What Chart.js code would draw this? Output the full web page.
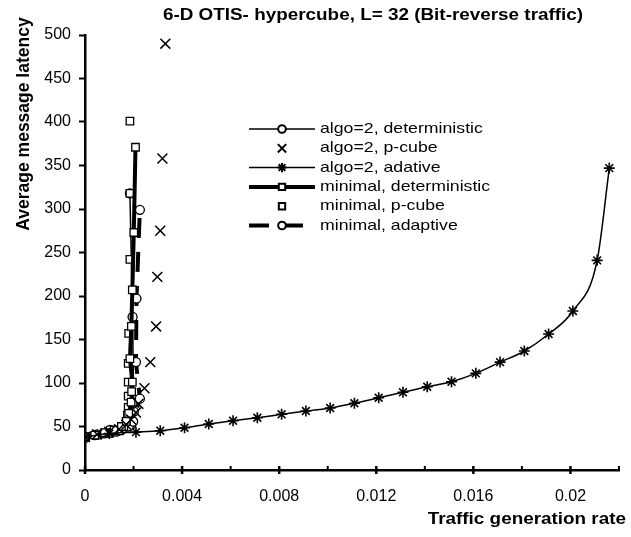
<!DOCTYPE html>
<html>
<head>
<meta charset="utf-8">
<script src="https://cdn.jsdelivr.net/npm/chart.js@4.4.1/dist/chart.umd.min.js"></script>
<style>
  html, body { margin: 0; padding: 0; background: #fff; }
  #wrap { width: 631px; height: 537px; position: relative; }
</style>
</head>
<body>
<div id="wrap"><canvas id="latencyChart"></canvas></div>
<script>
// tick values / labels
const xTickValues = [0, 0.002, 0.004, 0.006, 0.008, 0.010, 0.012, 0.014, 0.016, 0.018, 0.020, 0.022]
const xTickLabels = ["0", "", "0.004", "", "0.008", "", "0.012", "", "0.016", "", "0.02", ""]
const yTickValues = [0, 50, 100, 150, 200, 250, 300, 350, 400, 450, 500]

// series
const algo2DetX = [0, 0.0005, 0.001, 0.0015, 0.00157, 0.0019, 0.00198, 0.00201, 0.00196, 0.00185]
const algo2DetY = [38, 41, 43, 46, 48, 52, 56, 67, 176, 318]

const algo2PcubeX = [0, 0.0005, 0.001, 0.0014, 0.0017, 0.0019, 0.0021, 0.0022, 0.00245, 0.00269, 0.00293, 0.00298, 0.0031, 0.00319, 0.00331]
const algo2PcubeY = [38, 41, 44, 47, 52, 58, 66, 76, 94, 124, 165, 222, 275, 358, 490]

const algo2AdaptX = [0, 0.001, 0.0021, 0.0031, 0.0041, 0.0051, 0.0061, 0.0071, 0.0081, 0.0091, 0.0101, 0.0111, 0.0121, 0.0131, 0.0141, 0.0151, 0.0161, 0.0171, 0.0181, 0.0191, 0.0201, 0.0211, 0.0216]
const algo2AdaptY = [38, 42, 43.5, 45.2, 48.6, 52.9, 56.7, 60.1, 64.0, 67.8, 71.3, 76.7, 83.1, 89.3, 95.7, 101.5, 111.1, 124, 136.8, 156.3, 182.8, 241, 347]

const minDetX = [0, 0.0004, 0.0008, 0.0012, 0.0015, 0.0017, 0.0018, 0.0019, 0.00192, 0.00195, 0.00185, 0.00191, 0.00195, 0.00201, 0.00208]
const minDetY = [38, 40, 43, 46, 50, 56, 65, 78, 90, 101, 128, 165, 207, 273, 371]

const minPcubeX = [0, 0.0005, 0.001, 0.0014, 0.0016, 0.0017, 0.00175, 0.00178, 0.00178, 0.00178, 0.00178, 0.0018, 0.00185, 0.00185, 0.00185]
const minPcubeY = [38, 40, 42, 45, 50, 56, 63, 72, 85, 101, 122.6, 157, 242, 318, 401]

const minAdaptX = [0, 0.0004, 0.0008, 0.00103, 0.0013, 0.00157, 0.0018, 0.00198, 0.00226, 0.0021, 0.00212, 0.00226]
const minAdaptY = [37, 40, 42, 46, 44, 48, 50, 55.6, 82, 124, 197, 299]

const zip = (xs, ys) => xs.map((x, i) => ({ x: x, y: ys[i] }))

const FONT = "'Liberation Sans', Arial, sans-serif"
const STRETCH = 1.18 // the original picture is a bit wider than tall

const datasets = [
  {
    label: "algo=2, deterministic",
    data: zip(algo2DetX, algo2DetY),
    showLine: true, borderWidth: 1.5, borderColor: "#000",
    pointStyle: "circle", pointRadius: 4.5, pointBorderWidth: 1.3,
    pointBackgroundColor: "#fff", pointBorderColor: "#000",
    order: 10
  },
  {
    label: "algo=2, p-cube",
    data: zip(algo2PcubeX, algo2PcubeY),
    showLine: false, borderColor: "#000",
    pointStyle: "crossRot", pointRadius: 7, pointBorderWidth: 1.5,
    pointBorderColor: "#000"
  },
  {
    label: "algo=2, adative",
    data: zip(algo2AdaptX, algo2AdaptY),
    showLine: true, borderWidth: 1.5, borderColor: "#000",
    cubicInterpolationMode: "monotone",
    pointStyle: "star", pointRadius: 5.5, pointBorderWidth: 1.6,
    pointBorderColor: "#000"
  },
  {
    label: "minimal, deterministic",
    data: zip(minDetX, minDetY),
    showLine: true, borderWidth: 4, borderColor: "#000",
    pointStyle: "rect", pointRadius: 5.3, pointBorderWidth: 1.3,
    pointBackgroundColor: "#fff", pointBorderColor: "#000"
  },
  {
    label: "minimal, p-cube",
    data: zip(minPcubeX, minPcubeY),
    showLine: false, borderColor: "#000",
    pointStyle: "rect", pointRadius: 5.3, pointBorderWidth: 1.3,
    pointBackgroundColor: "#fff", pointBorderColor: "#000"
  },
  {
    label: "minimal, adaptive",
    data: zip(minAdaptX, minAdaptY),
    showLine: true, borderWidth: 4, borderColor: "#000", borderDash: [20, 14],
    pointStyle: "circle", pointRadius: 4.5, pointBorderWidth: 1.3,
    pointBackgroundColor: "#fff", pointBorderColor: "#000"
  }
]

function wideText(ctx, text, x, y, align) {
  ctx.save()
  ctx.translate(x, y)
  ctx.scale(STRETCH, 1)
  ctx.textAlign = align
  ctx.fillText(text, 0, 0)
  ctx.restore()
}

// legend, titles and x tick marks drawn at the positions of the original
const chartText = {
  id: "chartText",
  afterDraw(chart) {
    const ctx = chart.ctx
    const xs = chart.scales.x
    const axisY = chart.chartArea.bottom
    ctx.save()

    // x tick marks: majors cross the axis, minors sit on top of it
    ctx.strokeStyle = "#000"
    xTickValues.forEach((v, i) => {
      const px = xs.getPixelForValue(v)
      const major = i % 2 === 0
      ctx.lineWidth = major ? 2.5 : 2
      ctx.beginPath()
      ctx.moveTo(px, axisY - 4)
      ctx.lineTo(px, major ? axisY + 4 : axisY)
      ctx.stroke()
    })

    ctx.fillStyle = "#000"
    ctx.textBaseline = "middle"

    ctx.font = "bold 16px " + FONT
    wideText(ctx, "6-D OTIS- hypercube, L= 32 (Bit-reverse traffic)", 373, 16, "center")
    wideText(ctx, "Traffic generation rate", 626, 520, "right")

    // y title
    ctx.save()
    ctx.font = "bold 17.5px " + FONT
    ctx.translate(24, 124)
    ctx.rotate(-Math.PI / 2)
    ctx.textAlign = "center"
    ctx.fillText("Average message latency", 0, 0)
    ctx.restore()

    // legend
    const x0 = 249, x1 = 315, xm = 282, tx = 320
    chart.data.datasets.forEach((ds, i) => {
      const y = 129 + i * 19.3
      if (ds.showLine) {
        ctx.save()
        ctx.strokeStyle = "#000"
        ctx.lineWidth = ds.borderWidth
        if (ds.borderDash) ctx.setLineDash(ds.borderDash)
        ctx.beginPath()
        ctx.moveTo(x0, y)
        ctx.lineTo(x1, y)
        ctx.stroke()
        ctx.restore()
      }
      ctx.save()
      ctx.strokeStyle = "#000"
      ctx.fillStyle = ds.pointBackgroundColor || "#fff"
      Chart.helpers.drawPoint(ctx, {
        pointStyle: ds.pointStyle,
        radius: ds.pointRadius * 0.85,
        borderWidth: ds.pointBorderWidth,
        rotation: 0
      }, xm, y)
      ctx.restore()
      ctx.font = "15px " + FONT
      wideText(ctx, ds.label, tx, y, "left")
    })
    ctx.restore()
  }
}

new Chart(document.getElementById("latencyChart"), {
  type: "scatter",
  data: { datasets: datasets },
  options: {
    responsive: true,
    maintainAspectRatio: false,
    animation: false,
    layout: { padding: { left: 0, right: 12, top: 35, bottom: 0 } },
    plugins: {
      legend: { display: false },
      tooltip: { enabled: false }
    },
    elements: { line: { tension: 0 } },
    scales: {
      x: {
        type: "linear",
        min: 0,
        max: 0.022,
        afterFit: (scale) => { scale.height = 67 },
        afterBuildTicks: (scale) => { scale.ticks = xTickValues.map(v => ({ value: v })) },
        grid: {
          drawOnChartArea: false,
          tickLength: 5,
          tickColor: "rgba(0,0,0,0)"
        },
        border: { color: "#000", width: 2.5 },
        ticks: {
          autoSkip: false,
          maxRotation: 0,
          color: "#000",
          padding: 12,
          font: { size: 16, family: FONT },
          callback: (v, i) => xTickLabels[i]
        }
      },
      y: {
        min: 0,
        max: 500,
        afterFit: (scale) => { scale.width = 85 },
        afterBuildTicks: (scale) => { scale.ticks = yTickValues.map(v => ({ value: v })) },
        grid: {
          drawOnChartArea: false,
          tickLength: 6,
          tickColor: "#000",
          tickWidth: 2
        },
        border: { color: "#000", width: 2.5 },
        ticks: {
          color: "#000",
          padding: 8,
          font: { size: 16, family: FONT }
        }
      }
    }
  },
  plugins: [chartText]
})
</script>
</body>
</html>
